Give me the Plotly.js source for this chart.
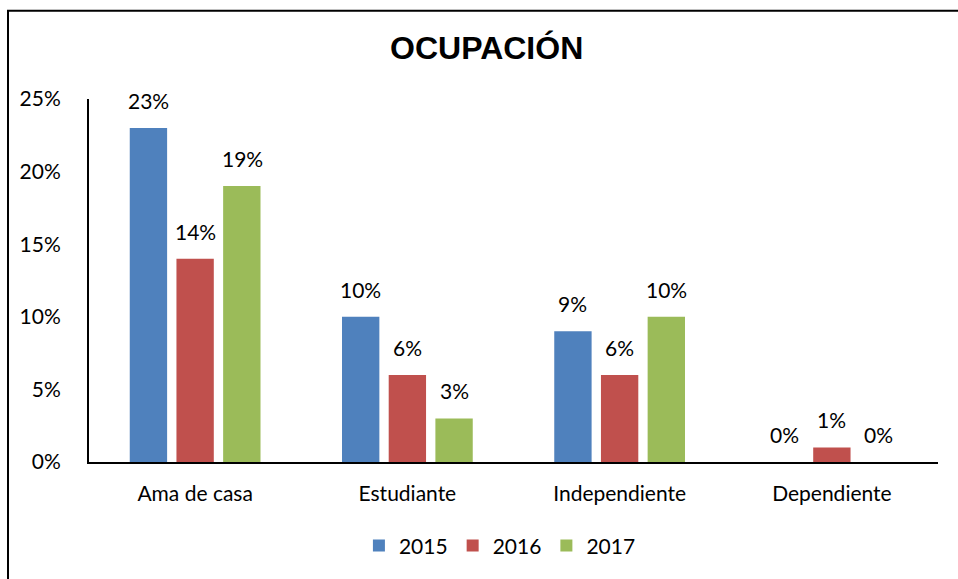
<!DOCTYPE html>
<html>
<head>
<meta charset="utf-8">
<script src="https://cdn.plot.ly/plotly-3.0.1.min.js"></script>
<style>html,body{margin:0;padding:0;background:#fff}#chart{width:958px;height:579px}</style>
</head>
<body>
<div id="chart"></div>
<script>
const categories = ["Ama de casa", "Estudiante", "Independiente", "Dependiente"];
const seriesNames = ["2015", "2016", "2017"];
const values2015 = [23, 10, 9, 0];
const values2016 = [14, 6, 6, 1];
const values2017 = [19, 3, 10, 0];
const yTickVals = [0, 5, 10, 15, 20, 25];
const yTickText = ["0%", "5%", "10%", "15%", "20%", "25%"];
const colors = ["#4F81BD", "#C0504D", "#9BBB59"];
const allValues = [values2015, values2016, values2017];
const font = "Lato, 'Open Sans', sans-serif";
const fs = 21;

const traces = allValues.map((vals, i) => ({
  type: "bar",
  name: seriesNames[i],
  x: categories,
  y: vals,
  marker: {color: colors[i]},
  hoverinfo: "none"
}));

// data labels placed over each bar, shifted to the bar's slot in the group
const annotations = [];
allValues.forEach((vals, i) => {
  vals.forEach((v, j) => {
    annotations.push({
      x: categories[j], y: v, xref: "x", yref: "y",
      text: v + "%", showarrow: false,
      xshift: (i - 1) * 47, yshift: 13, yanchor: "bottom",
      font: {family: font, size: fs, color: "#000"}
    });
  });
});

const layout = {
  width: 958, height: 579,
  margin: {l: 89, r: 20, t: 99, b: 117},
  paper_bgcolor: "#fff", plot_bgcolor: "#fff",
  barmode: "group", bargap: 0.34, bargroupgap: 0.2,
  title: {text: "<b>OCUPACIÓN</b>", font: {family: "Liberation Sans, Arial, sans-serif", size: 32, color: "#000"}, x: 0.508, xref: "container", y: 0.917, yref: "container", yanchor: "middle"},
  xaxis: {showline: true, linecolor: "#000", linewidth: 2, ticks: "", showgrid: false, tickfont: {family: font, size: fs, color: "#000"}, ticklabelstandoff: 12, fixedrange: true},
  yaxis: {range: [0, 25], tickvals: yTickVals, ticktext: yTickText, showline: true, linecolor: "#000", linewidth: 2, ticks: "", showgrid: false, zeroline: false, tickfont: {family: font, size: fs, color: "#000"}, ticklabelstandoff: 22, fixedrange: true},
  legend: {orientation: "h", x: 0.484, xanchor: "center", y: -0.231, yanchor: "middle", font: {family: font, size: fs, color: "#000"}, itemwidth: 20},
  annotations: annotations,
  shapes: [{type: "rect", xref: "paper", yref: "paper", x0: -0.0954, x1: 1.2, y0: -0.5, y1: 1.243, line: {color: "#000", width: 2}, fillcolor: "rgba(0,0,0,0)", layer: "below"}],
  showlegend: true
};

Plotly.newPlot("chart", traces, layout, {displayModeBar: false, staticPlot: true});
</script>
</body>
</html>
